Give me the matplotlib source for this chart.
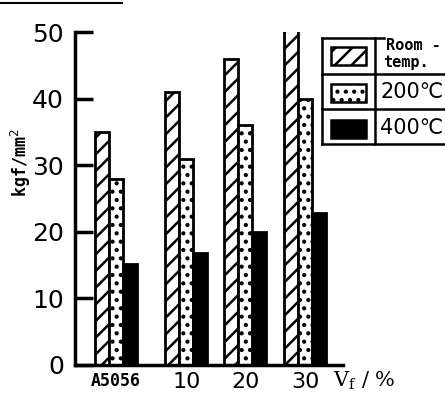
import matplotlib
matplotlib.use("Agg")
import matplotlib.pyplot as plt
from matplotlib.patches import Rectangle
from matplotlib.lines import Line2D

# datos (kgf/mm2)
grupos = ["A5056", "10", "20", "30"]
room_temp = [35, 41, 46, 51]
t200 = [28, 31, 36, 40]
t400 = [15.2, 16.8, 20, 22.8]

plt.rcParams['hatch.linewidth'] = 1.8
plt.rcParams['font.family'] = ['DejaVu Sans']

W, H = 445, 397
fig = plt.figure(figsize=(W / 100, H / 100), dpi=100)
ax = fig.add_axes([75 / W, 32 / H, (343 - 75) / W, (365 - 32) / H])

pos = [0, 1.17, 2.15, 3.15]
ancho = 0.235
xa = [p - ancho for p in pos]
xc = [p + ancho for p in pos]

ax.bar(xa, room_temp, width=ancho, color='white', edgecolor='black',
       hatch='//', linewidth=2)
ax.bar(pos, t200, width=ancho, color='white', edgecolor='black',
       hatch='..', linewidth=2)
ax.bar(xc, t400, width=ancho, color='black', edgecolor='black', linewidth=2)

ax.set_xlim(-0.683, 3.78)
ax.set_ylim(0, 50)
ax.spines['top'].set_visible(False)
ax.spines['right'].set_visible(False)
ax.spines['left'].set_linewidth(2.5)
ax.spines['bottom'].set_linewidth(2.5)

ax.set_yticks([0, 10, 20, 30, 40, 50])
ax.tick_params(axis='y', direction='in', length=13, width=2.5,
               labelsize=18, pad=8)
ax.set_xticks(pos)
ax.set_xticklabels(grupos)
ax.tick_params(axis='x', length=0, pad=5, labelsize=16)
ax.get_xticklabels()[0].set_fontsize(12)
ax.get_xticklabels()[0].set_fontfamily('DejaVu Sans Mono')
ax.get_xticklabels()[0].set_fontweight('bold')

fig.text(21 / W, 1 - 163 / H, "kgf/mm$^2$", rotation=90, va='center',
         ha='center', fontsize=12, family='DejaVu Sans Mono', weight='bold')
fig.text(333 / W, 1 - 381 / H, "V$_\\mathregular{f}$ / %", va='center',
         ha='left', fontsize=15, family='DejaVu Serif')

# linea superior del escaneo
fig.add_artist(Line2D([0, 122 / W], [1 - 3 / H, 1 - 3 / H], color='black',
                      lw=1.5, transform=fig.transFigure))


# leyenda dibujada como tabla
def fx(px):
    return px / W


def fy(py):
    return 1 - py / H


def linea(x0, y0, x1, y1):
    fig.add_artist(Line2D([fx(x0), fx(x1)], [fy(y0), fy(y1)], color='black',
                          lw=1.8, transform=fig.transFigure))


linea(322, 38, 384, 38)
linea(322, 38, 322, 144)
linea(375, 38, 375, 144)
linea(322, 144, 445, 144)
linea(322, 74, 445, 74)
linea(322, 109, 445, 109)

muestras = [(47, 'white', '//'), (84, 'white', '..'), (120, 'black', None)]
for top, col, hat in muestras:
    fig.add_artist(Rectangle((fx(331), fy(top + 18)), 35 / W, 18 / H,
                             facecolor=col, edgecolor='black', lw=1.8,
                             hatch=hat, transform=fig.transFigure))

fig.text(fx(386), fy(45), "Room -", va='center', ha='left', fontsize=11,
         family='DejaVu Sans Mono', weight='bold')
fig.text(fx(383), fy(62), "temp.", va='center', ha='left', fontsize=11,
         family='DejaVu Sans Mono', weight='bold')
fig.text(fx(380), fy(92), "200\u2103", va='center', ha='left', fontsize=15)
fig.text(fx(380), fy(128), "400\u2103", va='center', ha='left', fontsize=15)

fig.savefig("out.png", dpi=100)
